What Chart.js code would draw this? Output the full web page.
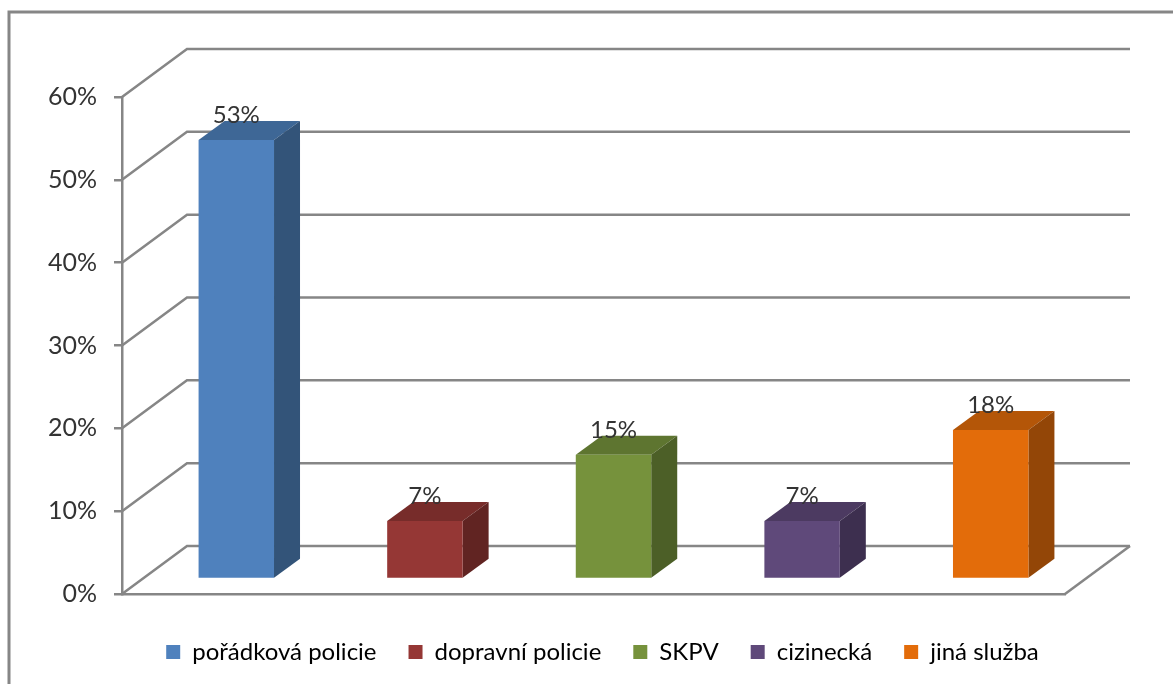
<!DOCTYPE html>
<html>
<head>
<meta charset="utf-8">
<title>Služba</title>
<script src="https://cdn.jsdelivr.net/npm/chart.js@4"></script>
<style>
html, body { margin: 0; padding: 0; background: #fff; }
#wrap { position: relative; width: 1173px; height: 684px; overflow: hidden; }
</style>
</head>
<body>
<div id="wrap"><canvas id="chart" width="1173" height="684"></canvas></div>
<script>
const categories = ['pořádková policie', 'dopravní policie', 'SKPV', 'cizinecká', 'jiná služba'];
const values = [53, 7, 15, 7, 18];
const frontColors = ['#4f81bd', '#953735', '#76923c', '#5f497a', '#e36c0a'];
const topColors = ['#3e6796', '#772c2a', '#5e7530', '#4c3a61', '#b45608'];
const sideColors = ['#335479', '#612422', '#4c5f27', '#3d2f4f', '#934607'];

const gridColor = '#868686';
const textColor = '#333333';
const fontName = 'Lato, "Open Sans", sans-serif';

// hloubka steny a sloupcu
const wallDx = 65, wallDy = 48;
const barDx = 26, barDy = 19;
const barShiftX = 20, barShiftY = 15;

const frame3d = {
    id: 'frame3d',
    beforeDraw(chart) {
        const ctx = chart.ctx;
        ctx.save();
        ctx.fillStyle = '#fff';
        ctx.fillRect(0, 0, chart.width, chart.height);
        // ramecek grafu
        ctx.strokeStyle = gridColor;
        ctx.lineWidth = 3;
        ctx.beginPath();
        ctx.moveTo(9, chart.height);
        ctx.lineTo(9, 12);
        ctx.lineTo(chart.width, 12);
        ctx.stroke();
        ctx.restore();
    },
    beforeDatasetsDraw(chart) {
        const ctx = chart.ctx, a = chart.chartArea, y = chart.scales.y;
        ctx.save();
        ctx.strokeStyle = gridColor;
        ctx.lineWidth = 2.5;
        y.ticks.forEach(t => {
            const py = y.getPixelForValue(t.value);
            ctx.beginPath();
            ctx.moveTo(a.left, py);
            ctx.lineTo(a.left + wallDx, py - wallDy);
            ctx.lineTo(a.right + wallDx, py - wallDy);
            ctx.stroke();
        });
        ctx.beginPath();
        ctx.moveTo(a.right, a.bottom);
        ctx.lineTo(a.right + wallDx, a.bottom - wallDy);
        ctx.stroke();
        ctx.restore();
    },
    beforeDatasetDraw(chart, args) {
        const ctx = chart.ctx;
        ctx.save();
        ctx.translate(barShiftX, -barShiftY);
        args.meta.data.forEach((bar, i) => {
            const l = bar.x - bar.width / 2, r = bar.x + bar.width / 2;
            ctx.fillStyle = topColors[i];
            ctx.beginPath();
            ctx.moveTo(l, bar.y);
            ctx.lineTo(l + barDx, bar.y - barDy);
            ctx.lineTo(r + barDx, bar.y - barDy);
            ctx.lineTo(r, bar.y);
            ctx.closePath();
            ctx.fill();
            ctx.fillStyle = sideColors[i];
            ctx.beginPath();
            ctx.moveTo(r, bar.y);
            ctx.lineTo(r + barDx, bar.y - barDy);
            ctx.lineTo(r + barDx, bar.base - barDy);
            ctx.lineTo(r, bar.base);
            ctx.closePath();
            ctx.fill();
        });
    },
    afterDatasetDraw(chart, args) {
        const ctx = chart.ctx;
        ctx.fillStyle = textColor;
        ctx.font = '24px ' + fontName;
        ctx.textAlign = 'center';
        ctx.textBaseline = 'alphabetic';
        args.meta.data.forEach((bar, i) => {
            ctx.fillText(values[i] + '%', bar.x, bar.y - barDy + 2);
        });
        ctx.restore();
    },
    afterLayout(chart) {
        // legenda je posunuta oproti stredu platna
        const lg = chart.legend;
        lg.left += 70; lg.right += 70;
        lg.top += 6; lg.bottom += 6;
    }
};

new Chart(document.getElementById('chart'), {
    type: 'bar',
    data: {
        labels: categories,
        datasets: [{
            data: values,
            backgroundColor: frontColors,
            borderWidth: 0,
            barPercentage: 0.4,
            categoryPercentage: 1,
            clip: false
        }]
    },
    options: {
        responsive: false,
        animation: false,
        layout: { padding: { left: 0, right: 108, top: 97, bottom: 16 } },
        scales: {
            x: {
                ticks: { display: false },
                grid: { display: false },
                border: { color: gridColor, width: 2.5 }
            },
            y: {
                min: 0,
                max: 60,
                afterFit(scale) { scale.width = 122; },
                ticks: {
                    stepSize: 10,
                    padding: 17,
                    color: textColor,
                    font: { family: fontName, size: 25 },
                    callback: v => v + '%'
                },
                grid: { drawOnChartArea: false, color: gridColor, lineWidth: 2.5, tickLength: 8 },
                border: { color: gridColor, width: 2.5 }
            }
        },
        plugins: {
            tooltip: { enabled: false },
            legend: {
                position: 'bottom',
                labels: {
                    boxWidth: 14,
                    boxHeight: 14,
                    padding: 32,
                    color: textColor,
                    font: { family: fontName, size: 24 },
                    generateLabels: () => categories.map((c, i) => ({
                        text: c,
                        fillStyle: frontColors[i],
                        strokeStyle: frontColors[i],
                        lineWidth: 0,
                        index: i
                    }))
                }
            }
        }
    },
    plugins: [frame3d]
});
</script>
</body>
</html>
